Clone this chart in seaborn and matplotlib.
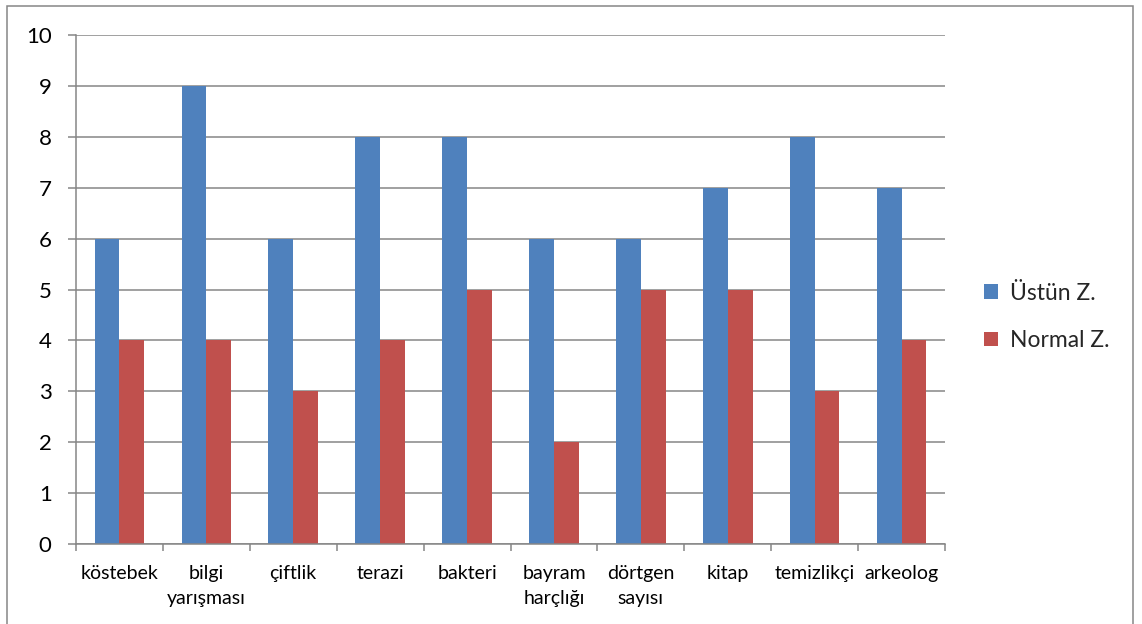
import matplotlib
matplotlib.use("Agg")
import matplotlib.pyplot as plt
from matplotlib.patches import Rectangle, Patch
import numpy as np
import pandas as pd
import seaborn as sns

categories = ["köstebek", "bilgi\nyarışması", "çiftlik", "terazi", "bakteri",
              "bayram\nharçlığı", "dörtgen\nsayısı", "kitap", "temizlikçi", "arkeolog"]
ustun = [6, 9, 6, 8, 8, 6, 6, 7, 8, 7]
normal = [4, 4, 3, 4, 5, 2, 5, 5, 3, 4]
series_names = ["Üstün Z.", "Normal Z."]
colors = ["#4F81BD", "#C0504D"]
y_ticks = list(range(0, 11))

df = pd.DataFrame({
    "kategori": categories * 2,
    "deger": ustun + normal,
    "seri": [series_names[0]] * len(categories) + [series_names[1]] * len(categories),
})

sns.set_theme(style="white")
plt.rcParams["font.family"] = ["Lato", "DejaVu Sans"]

fig = plt.figure(figsize=(11.42, 6.24), dpi=100)
ax = fig.add_axes([76 / 1142, 1 - 544 / 624, (945 - 76) / 1142, (544 - 35) / 624])

# grouped bars: two series per category
sns.barplot(data=df, x="kategori", y="deger", hue="seri", palette=colors,
            width=2 / 3.5, saturation=1, ax=ax, legend=False, linewidth=0)

grid_c = "#868686"
ax.set_ylim(0, 10)
ax.set_xlim(-0.5, len(categories) - 0.5)
ax.set_yticks(y_ticks)
ax.set_yticklabels([str(v) for v in y_ticks], fontsize=16, color="black")
ax.yaxis.grid(True, color=grid_c, linewidth=1.1)
ax.set_axisbelow(True)
ax.set_xlabel("")
ax.set_ylabel("")

# category labels centred, tick marks between categories
ax.set_xticks(range(len(categories)))
ax.set_xticklabels(categories, fontsize=14, color="black", linespacing=1.6)
ax.set_xticks(np.arange(-0.5, len(categories), 1.0), minor=True)
ax.tick_params(axis="x", which="major", length=0, pad=15)
ax.tick_params(axis="x", which="minor", length=5, width=1.1, color=grid_c, direction="out", bottom=True)
ax.tick_params(axis="y", which="major", length=5.5, width=1.1, color=grid_c, direction="out", left=True, pad=12)

for s in ["top", "right"]:
    ax.spines[s].set_visible(False)
for s in ["left", "bottom"]:
    ax.spines[s].set_color(grid_c)
    ax.spines[s].set_linewidth(1.1)

handles = [Patch(facecolor=c, edgecolor="none") for c in colors]
fig.legend(handles, series_names, loc="center left", bbox_to_anchor=(984 / 1142, 1 - 317 / 624),
           frameon=False, fontsize=16.5, handlelength=0.6, handleheight=0.6,
           handletextpad=0.55, labelspacing=1.15, borderpad=0, borderaxespad=0)

# outer chart border
fig.patches.append(Rectangle((7 / 1142, -0.05), (1133 - 7) / 1142, 1.05 - 6 / 624,
                             transform=fig.transFigure, fill=False,
                             edgecolor=grid_c, linewidth=1.1))

fig.savefig("out.png", dpi=100)
